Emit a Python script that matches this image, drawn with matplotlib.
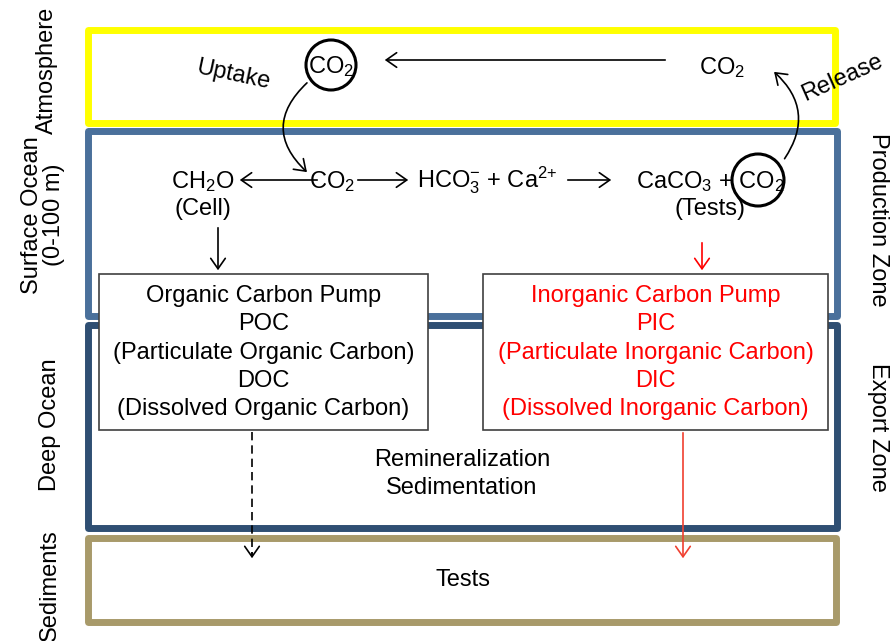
"""
Ocean carbon pump diagram: atmosphere, surface ocean, deep ocean, sediments.
"""

import matplotlib.pyplot as plt
from matplotlib.patches import Rectangle, Circle, FancyArrowPatch

plt.rcParams["font.family"] = ["Liberation Sans", "DejaVu Sans"]
plt.rcParams["mathtext.fontset"] = "custom"
plt.rcParams["mathtext.rm"] = "Liberation Sans"
plt.rcParams["mathtext.it"] = "Liberation Sans:italic"
plt.rcParams["mathtext.default"] = "regular"

# zone frames: name, colour, (x0, y0, x1, y1) in pixel units
zone_names = ["Atmosphere", "Surface Ocean", "Deep Ocean", "Sediments"]
zone_colors = ["#FFFF00", "#4A709B", "#2F4F73", "#A89A6A"]
zone_boxes = [(88, 30, 835, 123), (88, 131, 837, 316), (88, 325, 837, 528), (88, 538, 836, 622)]

left_labels = ["Atmosphere", "Surface Ocean\n(0-100 m)", "Deep Ocean", "Sediments"]
left_pos = [(47, 70), (43, 215), (50, 425), (50, 585)]
right_labels = ["Production Zone", "Export Zone"]
right_pos = [(878, 220), (878, 427)]

organic_lines = ["Organic Carbon Pump", "POC", "(Particulate Organic Carbon)",
                 "DOC", "(Dissolved Organic Carbon)"]
inorganic_lines = ["Inorganic Carbon Pump", "PIC", "(Particulate Inorganic Carbon)",
                   "DIC", "(Dissolved Inorganic Carbon)"]

FS = 17
RED = "#FF0000"

fig = plt.figure(figsize=(8.9, 6.41), dpi=100)
ax = fig.add_axes([0, 0, 1, 1])
ax.set_xlim(0, 890)
ax.set_ylim(641, 0)
ax.axis("off")

for color, (x0, y0, x1, y1) in zip(zone_colors, zone_boxes):
    ax.add_patch(Rectangle((x0, y0), x1 - x0, y1 - y0, fill=False,
                           edgecolor=color, linewidth=5, joinstyle="round"))

for txt, (x, y) in zip(left_labels, left_pos):
    ax.text(x, y, txt, rotation=90, ha="center", va="center", fontsize=FS,
            linespacing=1.05)
for txt, (x, y) in zip(right_labels, right_pos):
    ax.text(x, y, txt, rotation=-90, ha="center", va="center", fontsize=FS)


def arrow(p0, p1, color="black", rad=0.0, lw=1.2):
    ax.add_patch(FancyArrowPatch(p0, p1, arrowstyle="->,head_length=5,head_width=3.5",
                                 connectionstyle=f"arc3,rad={rad}", color=color,
                                 linewidth=lw, mutation_scale=1.5))


# atmosphere
ax.text(233, 75, "Uptake", rotation=-12, ha="center", va="center", fontsize=FS)
ax.add_patch(Circle((331, 65), 25, fill=False, edgecolor="black", linewidth=2.2))
ax.text(331, 67, "CO$_2$", ha="center", va="center", fontsize=FS)
arrow((668, 60), (382, 60))
ax.text(722, 68, "CO$_2$", ha="center", va="center", fontsize=FS)
ax.text(842, 78, "Release", rotation=24, ha="center", va="center", fontsize=FS)
arrow((309, 81), (309, 174), rad=0.55)
arrow((783, 161), (772, 70), rad=0.45)

# surface ocean reactions
ax.text(203, 182, "CH$_2$O", ha="center", va="center", fontsize=FS)
ax.text(203, 209, "(Cell)", ha="center", va="center", fontsize=FS)
arrow((320, 180), (237, 180))
ax.text(332, 182, "CO$_2$", ha="center", va="center", fontsize=FS)
arrow((355, 180), (411, 180))
ax.text(487, 180, "HCO$_3^{-}$ + Ca$^{2{+}}$", ha="center", va="center", fontsize=FS)
arrow((565, 180), (614, 180))
ax.text(710, 182, "CaCO$_3$ + CO$_2$", ha="center", va="center", fontsize=FS)
ax.add_patch(Circle((758, 180), 26, fill=False, edgecolor="black", linewidth=2.2))
ax.text(710, 209, "(Tests)", ha="center", va="center", fontsize=FS)

arrow((218, 225), (218, 273))
arrow((702, 240), (702, 273), color=RED)

# pump boxes
for (x0, x1), lines, color in [((99, 428), organic_lines, "black"),
                               ((483, 828), inorganic_lines, RED)]:
    ax.add_patch(Rectangle((x0, 274), x1 - x0, 156, facecolor="white",
                           edgecolor="#404040", linewidth=1.2, zorder=3))
    for i, line in enumerate(lines):
        ax.text((x0 + x1) / 2, 296 + i * 28.3, line, ha="center", va="center",
                fontsize=FS, color=color, zorder=4)

# dashed sinking line with a solid head
ax.plot([252, 252], [432, 555], color="black", linestyle=(0, (5, 3)), linewidth=1.2)
arrow((252, 550), (252, 561))
arrow((683, 430), (683, 561), color="#F04030")

ax.text(462, 474, "Remineralization\nSedimentation", ha="center", va="center",
        fontsize=FS, linespacing=1.4)
ax.text(463, 580, "Tests", ha="center", va="center", fontsize=FS)

fig.savefig("out.png", dpi=100)
